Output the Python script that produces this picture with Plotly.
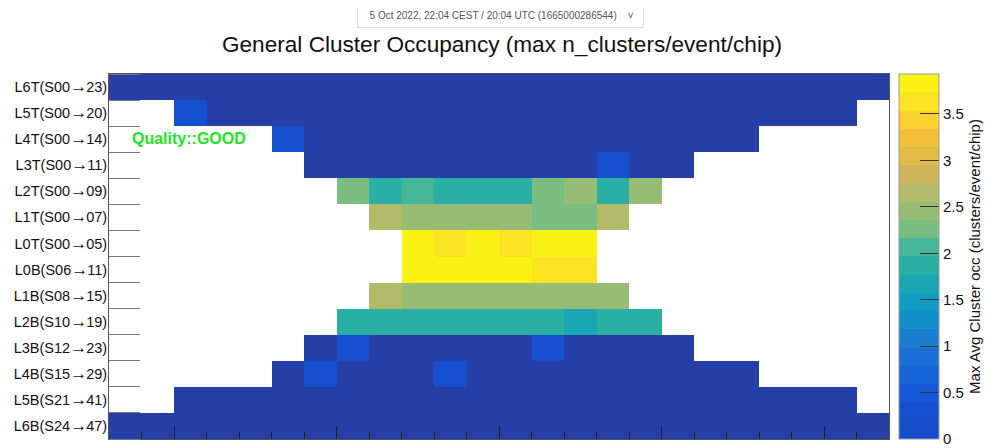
import plotly.graph_objects as go

# layers, bottom to top
layer_labels = [
    "L6B(S24→47)", "L5B(S21→41)", "L4B(S15→29)", "L3B(S12→23)",
    "L2B(S10→19)", "L1B(S08→15)", "L0B(S06→11)", "L0T(S00→05)",
    "L1T(S00→07)", "L2T(S00→09)", "L3T(S00→11)", "L4T(S00→14)",
    "L5T(S00→20)", "L6T(S00→23)",
]
# first column occupied by each layer (24 columns in total)
first_col = [0, 2, 5, 6, 7, 8, 9, 9, 8, 7, 6, 5, 2, 0]

# occupancy per stave (0 = lowest level, drawn in the dark blue)
L6B = [0] * 24
L5B = [0] * 21
L4B = [0, 0.3, 0, 0, 0, 0.3, 0, 0, 0, 0, 0, 0, 0, 0, 0]
L3B = [0, 0.3, 0, 0, 0, 0, 0, 0.3, 0, 0, 0, 0]
L2B = [1.85, 1.85, 1.85, 1.85, 1.85, 1.85, 1.85, 1.68, 1.85, 1.85]
L1B = [2.65, 2.45, 2.45, 2.45, 2.45, 2.45, 2.45, 2.45]
L0B = [3.85, 3.85, 3.85, 3.85, 3.62, 3.62]
L0T = [3.85, 3.62, 3.85, 3.62, 3.85, 3.85]
L1T = [2.65, 2.45, 2.45, 2.45, 2.45, 2.25, 2.25, 2.65]
L2T = [2.25, 1.85, 2.05, 1.85, 1.85, 1.85, 2.25, 2.45, 1.85, 2.45]
L3T = [0, 0, 0, 0, 0, 0, 0, 0, 0, 0.3, 0, 0]
L4T = [0.3] + [0] * 14
L5T = [0.3] + [0] * 20
L6T = [0] * 24
rows = [L6B, L5B, L4B, L3B, L2B, L1B, L0B, L0T, L1T, L2T, L3T, L4T, L5T, L6T]

n_cols = 24
z_min, z_max = 0, 3.93
cbar_ticks = [0, 0.5, 1, 1.5, 2, 2.5, 3, 3.5]

# 20 contour colours of the palette, bottom to top
band_colors = [
    "#154dcb", "#1550ce", "#1658d7", "#1663d8", "#1a6fd4",
    "#1a7fd0", "#1290c8", "#0f9dc1", "#18a6b2", "#2aafa3",
    "#45b697", "#7abd82", "#97bd74", "#b2bc68", "#ccb45a",
    "#e2ba45", "#f2c03a", "#fbd12f", "#fbe324", "#f9f213",
]
dark_color = "#263fa8"

colorscale = []
for i, c in enumerate(band_colors):
    colorscale.append([i / len(band_colors), c])
    colorscale.append([(i + 1) / len(band_colors), c])

z_val = [[None] * n_cols for _ in rows]
z_low = [[None] * n_cols for _ in rows]
for r, vals in enumerate(rows):
    for k, v in enumerate(vals):
        c = first_col[r] + k
        if v == 0:
            z_low[r][c] = 1
        else:
            z_val[r][c] = v

x_centers = [c + 0.5 for c in range(n_cols)]
y_centers = [r + 0.5 for r in range(len(rows))]
# longer arrow like the ROOT labels
tick_text = [
    lab.replace("→", '<span style="font-size:17px;letter-spacing:-1px">→</span>')
    for lab in layer_labels
]

# page body adds 8px around the figure
W, H = 998, 440
plot_l, plot_r, plot_t, plot_b = 101, 881, 66, 431.5

fig = go.Figure()
fig.add_trace(
    go.Heatmap(
        x=x_centers, y=y_centers, z=z_low,
        colorscale=[[0, dark_color], [1, dark_color]],
        showscale=False, hoverinfo="skip",
    )
)
fig.add_trace(
    go.Heatmap(
        x=x_centers, y=y_centers, z=z_val,
        zmin=z_min, zmax=z_max,
        colorscale=colorscale,
        colorbar=dict(
            x=(891 - plot_l) / (plot_r - plot_l), xanchor="left", xpad=0,
            y=0.5, yanchor="middle", len=1, ypad=0,
            thickness=40,
            outlinewidth=1, outlinecolor="#999",
            ticks="inside", ticklen=19, tickcolor="#333",
            tickvals=cbar_ticks,
            ticktext=[f"{t:g}" for t in cbar_ticks],
            ticklabeloverflow="allow",
            tickfont=dict(size=15, color="#111"),
            title=dict(
                text="Max Avg Cluster occ (clusters/event/chip)",
                side="right",
                font=dict(size=15, color="#111"),
            ),
        ),
        hovertemplate="col %{x}<br>%{y}<br>%{z}<extra></extra>",
    )
)

fig.update_layout(
    width=W, height=H,
    margin=dict(l=plot_l, r=W - plot_r, t=plot_t, b=H - plot_b, autoexpand=False),
    paper_bgcolor="white", plot_bgcolor="white",
    font=dict(family="Liberation Sans, Arial, sans-serif", color="#111"),
    title=dict(
        text="General Cluster Occupancy (max n_clusters/event/chip)",
        x=(502 - 8) / W, xanchor="center", xref="container",
        y=1 - 36 / H, yanchor="middle", yref="container",
        font=dict(size=22.6, color="#111"),
    ),
    showlegend=False,
)

fig.update_xaxes(
    range=[0, n_cols], showgrid=False, zeroline=False,
    showline=True, linecolor="#555", linewidth=1, mirror=True,
    tick0=2, dtick=5, ticks="inside", ticklen=13, tickcolor="#222",
    showticklabels=False,
    minor=dict(dtick=1, tick0=0, ticks="inside", ticklen=7, tickcolor="#222"),
)
fig.update_yaxes(
    range=[0, len(rows)], showgrid=False, zeroline=False, automargin=False,
    showline=True, linecolor="#555", linewidth=1, mirror=True,
    tickmode="array", tickvals=y_centers, ticktext=tick_text,
    ticks="", tickfont=dict(size=14.5, color="#111"), ticklabelstandoff=-2,
    minor=dict(dtick=1, tick0=0, ticks="inside", ticklen=31, tickcolor="#777"),
)

ph = plot_b - plot_t
fig.add_annotation(
    text="<b>Quality::GOOD</b>",
    xref="paper", yref="paper",
    x=(122 - plot_l) / (plot_r - plot_l), y=(plot_b - 131) / ph,
    xanchor="left", yanchor="middle", showarrow=False,
    font=dict(size=16, color="#1ee61e"),
)

fig.add_annotation(
    text="&nbsp;&nbsp;5 Oct 2022, 22:04 CEST / 20:04 UTC (1665000286544)&nbsp;&nbsp;&nbsp;&nbsp;˅&nbsp;",
    xref="paper", yref="paper",
    x=(492 - plot_l) / (plot_r - plot_l), y=1 + (plot_t - 7) / ph,
    xanchor="center", yanchor="middle", showarrow=False,
    font=dict(size=10, color="#555"),
    bordercolor="#ddd", borderwidth=1, borderpad=6, bgcolor="white",
)

fig.write_html("out.html")
